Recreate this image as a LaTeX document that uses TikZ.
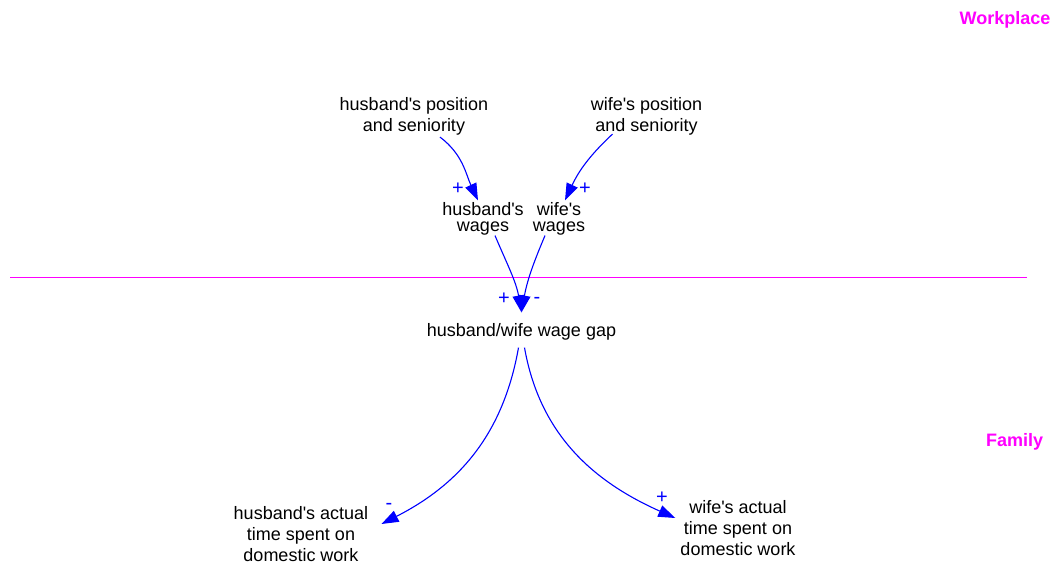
\documentclass[tikz,border=0pt]{standalone}
\usepackage{fontspec}
\setmainfont{Liberation Sans}
\usepackage{tikz}
\usetikzlibrary{arrows.meta}
\definecolor{linkblue}{RGB}{0, 0, 255}
\definecolor{zonemagenta}{RGB}{255, 0, 255}
\newcommand{\apos}{\textquotesingle}

\tikzset{
  var/.style={align=center, inner sep=2pt, font=\fontsize{18}{21}\selectfont},
  wagevar/.style={var, font=\fontsize{18}{16}\selectfont},
  link/.style={color=linkblue, line width=1.1pt, -{Triangle[length=17pt, width=12pt]}},
  sign/.style={color=linkblue, inner sep=0pt, font=\fontsize{20}{20}\selectfont},
  zonelabel/.style={color=zonemagenta, inner sep=0pt, font=\bfseries\fontsize{18}{18}\selectfont}
}

\begin{document}
\begin{tikzpicture}[x=1pt, y=1pt]
  \useasboundingbox (0, 0) rectangle (1054, -565);

  % sectors
  \draw[color=zonemagenta, line width=1pt] (10, -277.5) -- (1027, -277.5);
  \node[zonelabel] (work) at (1005, -20) {Workplace};
  \node[zonelabel] (family) at (1014.5, -442) {Family};

  % variables
  \node[var] (hpos) at (414, -116) {husband\apos s position\\and seniority};
  \node[var] (wpos) at (646.5, -116) {wife\apos s position\\and seniority};
  \node[wagevar] (hwage) at (483, -219) {husband\apos s\\wages};
  \node[wagevar] (wwage) at (559, -219) {wife\apos s\\wages};
  \node[var] (gap) at (521.5, -332) {husband/wife wage gap};
  \node[var] (hact) at (301, -534) {husband\apos s actual\\time spent on\\domestic work};
  \node[var] (wact) at (738, -528) {wife\apos s actual\\time spent on\\domestic work};

  % links
  \draw[link] ([xshift=26pt]hpos.south) to[out=-37, in=115] ([xshift=-5pt]hwage.north);
  \draw[link] ([xshift=-34pt, yshift=3pt]wpos.south) to[out=-137, in=65] ([xshift=6pt]wwage.north);
  \draw[link] ([xshift=12pt, yshift=2pt]hwage.south) to[out=-67, in=100] ([yshift=9pt]gap.north);
  \draw[link] ([xshift=-14pt, yshift=2pt]wwage.south) to[out=-113, in=80] ([yshift=9pt]gap.north);
  \draw[link] ([xshift=-3pt, yshift=-5pt]gap.south) to[out=-100, in=27] ([xshift=11pt, yshift=10pt]hact.east);
  \draw[link] ([xshift=3pt, yshift=-5pt]gap.south) to[out=-80, in=156] ([xshift=-3pt, yshift=10pt]wact.west);

  % polarities
  \node[sign] (s1) at (458, -189) {+};
  \node[sign] (s2) at (585, -189) {+};
  \node[sign] (s3) at (504, -299) {+};
  \node[sign] (s4) at (537, -300) {-};
  \node[sign] (s5) at (389, -506) {-};
  \node[sign] (s6) at (662, -498) {+};
\end{tikzpicture}
\end{document}
